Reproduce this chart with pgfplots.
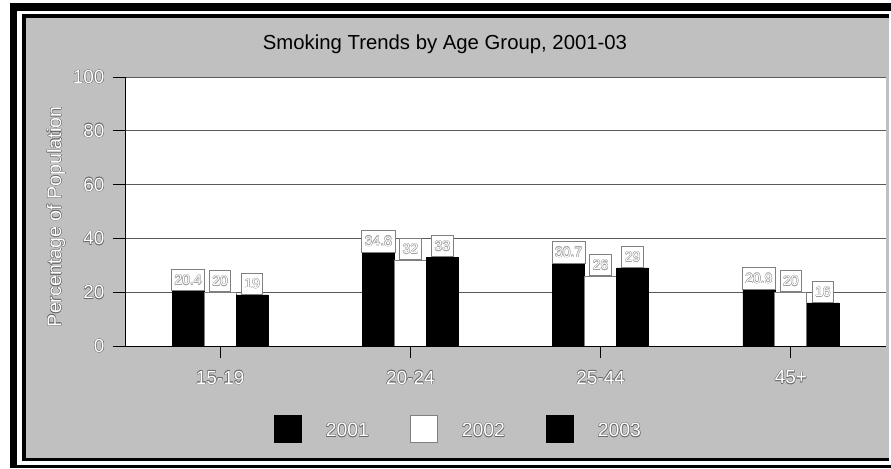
\documentclass[border=0pt]{standalone}
\usepackage{fontspec}
\setmainfont{Liberation Sans}
\usepackage{pgfplots}
\pgfplotsset{compat=1.18}

\definecolor{panel}{RGB}{192,192,192}
\definecolor{gridc}{RGB}{90,90,90}
\definecolor{edge}{RGB}{105,105,105}
\definecolor{boxedge}{RGB}{128,128,128}
\definecolor{valedge}{RGB}{160,160,160}

% white lettering with a thin coloured rim (embossed look)
\newcommand\embossed[2]{%
  \begingroup\setbox0\hbox{#2}%
  \def\embc##1##2{\rlap{\kern##1\raise##2\hbox{\color{#1}\copy0}}}%
  \embc{-.45pt}{0pt}\embc{.45pt}{0pt}\embc{0pt}{.45pt}\embc{0pt}{-.45pt}%
  \embc{-.32pt}{.32pt}\embc{.32pt}{.32pt}\embc{-.32pt}{-.32pt}\embc{.32pt}{-.32pt}%
  {\color{white}\copy0}\endgroup}

\pgfplotsset{
  sq legend/.style={legend image code/.code={%
      \draw[##1, line width=0.8bp] (0bp,-11.5bp) rectangle (27bp,15.5bp);}},
}

\begin{document}
\begin{tikzpicture}
  \path[use as bounding box] (0bp,0bp) rectangle (891bp,469bp);
  % double frame and grey panel
  \fill[black] (10bp,1bp) rectangle (891bp,466bp);
  \fill[white] (17bp,4bp) rectangle (891bp,458.3bp);
  \fill[black] (22bp,8bp) rectangle (889bp,455bp);
  \fill[panel] (26bp,11.3bp) rectangle (889bp,451.3bp);

  \begin{axis}[
    at={(125bp,123bp)}, anchor=south west,
    scale only axis, width=761bp, height=269bp,
    xmin=-0.5, xmax=3.5, ymin=0, ymax=100,
    axis background/.style={fill=white},
    axis x line*=bottom, axis y line*=left,
    axis line style={black, line width=0.8bp},
    ytick={0,20,...,100},
    xtick={0,1,2,3},
    xticklabels={\embossed{edge}{15-19},\embossed{edge}{20-24},\embossed{edge}{25-44},\embossed{edge}{45+}},
    yticklabel={\embossed{edge}{\pgfmathprintnumber[assume math mode=true]{\tick}}},
    ticklabel style={font=\fontsize{19}{22}\selectfont},
    yticklabel style={xshift=-5bp},
    xticklabel style={yshift=-9bp},
    tick align=outside, major tick length=12bp,
    tick style={black, line width=0.8bp},
    ymajorgrids, major grid style={draw=gridc, line width=0.8bp},
    ybar=0pt, bar width=32bp,
    title={Smoking Trends by Age Group, 2001-03},
    title style={at={(axis description cs:0.4205,1.0818)}, anchor=base,
      font=\fontsize{20.4}{24}\selectfont},
    ylabel={\embossed{edge}{Percentage of Population}},
    ylabel style={at={(axis description cs:-0.0907,0.48)}, anchor=center,
      font=\fontsize{19.7}{22}\selectfont},
    nodes near coords={\embossed{valedge}{\pgfmathprintnumber[assume math mode=true]{\pgfplotspointmeta}}},
    every node near coord/.append style={draw=boxedge, fill=white, line width=0.8bp,
      inner xsep=3bp, inner ysep=0pt, minimum height=21.5bp, anchor=south,
      font=\fontsize{14}{16}\selectfont},
    legend columns=3,
    legend style={at={(0.1958,-0.3067)}, anchor=west, draw=none, fill=none,
      inner sep=0pt, outer sep=0pt, font=\fontsize{19.5}{22}\selectfont,
      nodes={inner sep=0pt},
      /tikz/every odd column/.append style={column sep=24bp},
      /tikz/every even column/.append style={column sep=41bp}},
  ]
    \addplot[fill=black, draw=black, sq legend]
      coordinates {(0,20.4) (1,34.8) (2,30.7) (3,20.9)};
    \addlegendentry{\embossed{edge}{2001}}
    \addplot[fill=white, draw=boxedge, line width=0.8bp, sq legend]
      coordinates {(0,20) (1,32) (2,26) (3,20)};
    \addlegendentry{\embossed{edge}{2002}}
    \addplot[fill=black, draw=black, sq legend]
      coordinates {(0,19) (1,33) (2,29) (3,16)};
    \addlegendentry{\embossed{edge}{2003}}
  \end{axis}
\end{tikzpicture}
\end{document}
